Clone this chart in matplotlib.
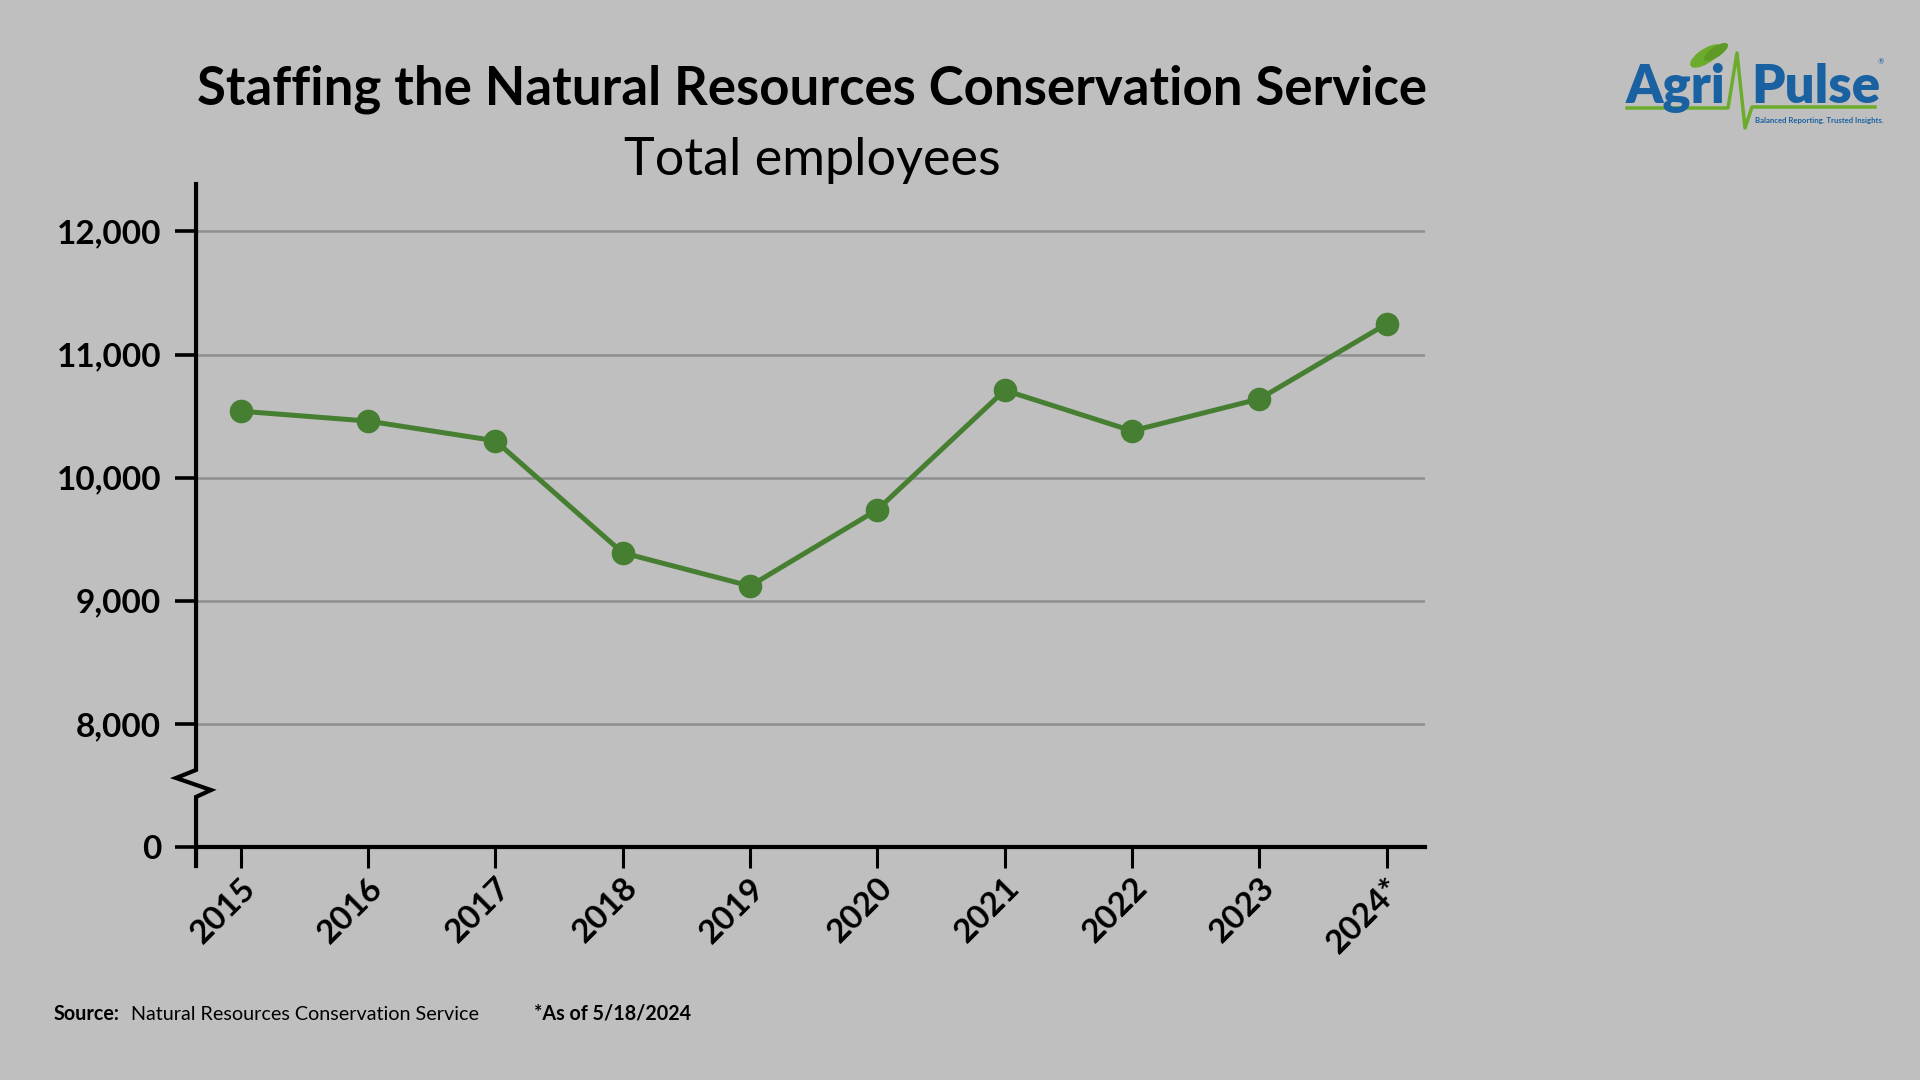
import matplotlib.pyplot as plt
import matplotlib.transforms as mtransforms
from matplotlib.lines import Line2D
from matplotlib.patches import Ellipse

# NRCS total employees
years = [2015, 2016, 2017, 2018, 2019, 2020, 2021, 2022, 2023, 2024]
year_labels = ['2015', '2016', '2017', '2018', '2019', '2020', '2021', '2022', '2023', '2024*']
employees = [10540, 10460, 10300, 9390, 9120, 9740, 10710, 10380, 10640, 11250]

# broken axis: the "0" tick sits one step below 8,000
ytick_values = [7000, 8000, 9000, 10000, 11000, 12000]
ytick_labels = ['0', '8,000', '9,000', '10,000', '11,000', '12,000']

title = 'Staffing the Natural Resources Conservation Service'
subtitle = 'Total employees'

plt.rcParams['font.family'] = ['Lato', 'DejaVu Sans']

bg = '#bfbfbf'
green = '#477f32'
grid_color = '#8e8e8e'
blue = '#1a61a2'
logo_green = '#6cac2c'

fig = plt.figure(figsize=(19.2, 10.8), dpi=100, facecolor=bg)
ax = fig.add_axes([0.1021, 0.2157, 0.6401, 0.6139])
ax.set_facecolor(bg)

ax.plot(years, employees, color=green, lw=3.6, marker='o', ms=16, zorder=3)
ax.set_xlim(2014.65, 2024.3)
ax.set_ylim(7000, 12385)

for v in ytick_values[1:]:
    ax.axhline(v, color=grid_color, lw=1.8, zorder=1)

ax.set_xticks(years)
ax.set_xticklabels(year_labels, rotation=45, ha='right', va='center',
                   rotation_mode='anchor', fontsize=24, fontweight='bold')
ax.set_yticks(ytick_values)
ax.set_yticklabels(ytick_labels, fontsize=24, fontweight='bold')
ax.tick_params(axis='x', length=15, width=2.2, pad=11)
ax.tick_params(axis='y', length=15, width=2.6, pad=10)

# nudge the slanted year labels a little right, as in the reference
shift = mtransforms.ScaledTranslation(10 / 100, 0, fig.dpi_scale_trans)
for lbl in ax.get_xticklabels():
    lbl.set_transform(lbl.get_transform() + shift)

for side in ['top', 'right', 'left']:
    ax.spines[side].set_visible(False)
ax.spines['bottom'].set_linewidth(3)

# left spine drawn by hand, with the break zigzag
trans = mtransforms.blended_transform_factory(ax.transAxes, ax.transData)
ax.add_line(Line2D([0, 0, -0.0163, 0.0122, 0, 0],
                   [12385, 7626, 7561, 7463, 7407, 6846],
                   transform=trans, color='black', lw=3, clip_on=False,
                   solid_joinstyle='miter'))

fig.text(0.423, 1 - 105 / 1080, title, ha='center', va='baseline',
         fontsize=38, fontweight='bold')
fig.text(0.423, 1 - 175 / 1080, subtitle, ha='center', va='baseline', fontsize=37.5)

fig.text(54 / 1920, 1 - 1020 / 1080, 'Source:', ha='left', va='baseline',
         fontsize=14.2, fontweight='bold')
fig.text(131 / 1920, 1 - 1020 / 1080, 'Natural Resources Conservation Service',
         ha='left', va='baseline', fontsize=14.2)
fig.text(534 / 1920, 1 - 1020 / 1080, '*As of 5/18/2024', ha='left', va='baseline',
         fontsize=14.2, fontweight='bold')

# Agri-Pulse logo
def fx(px):
    return px / 1920

def fy(py):
    return 1 - py / 1080

fig.text(fx(1626), fy(103), 'Agri', ha='left', va='baseline', fontsize=38,
         fontweight='heavy', color=blue)
fig.text(fx(1751), fy(103), 'Pulse', ha='left', va='baseline', fontsize=38,
         fontweight='heavy', color=blue)
fig.text(fx(1878), fy(64), '®', ha='left', va='baseline', fontsize=5.5, color=blue)
fig.add_artist(Line2D([fx(1627), fx(1728), fx(1737), fx(1745), fx(1752), fx(1875)],
                      [fy(108), fy(108), fy(53), fy(128), fy(107), fy(107)],
                      color=logo_green, lw=2.5))
fig.add_artist(Ellipse((fx(1706), fy(56)), fx(18), 26 / 1080, angle=-35,
                       color=logo_green))
fig.add_artist(Ellipse((fx(1716), fy(52)), fx(12), 20 / 1080, angle=-35,
                       color='#5e9a25'))
fig.text(fx(1755), fy(123), 'Balanced Reporting. Trusted Insights.', ha='left',
         va='baseline', fontsize=5.6, fontweight='bold', color=blue)

fig.savefig('out.png', dpi=100, facecolor=bg)
